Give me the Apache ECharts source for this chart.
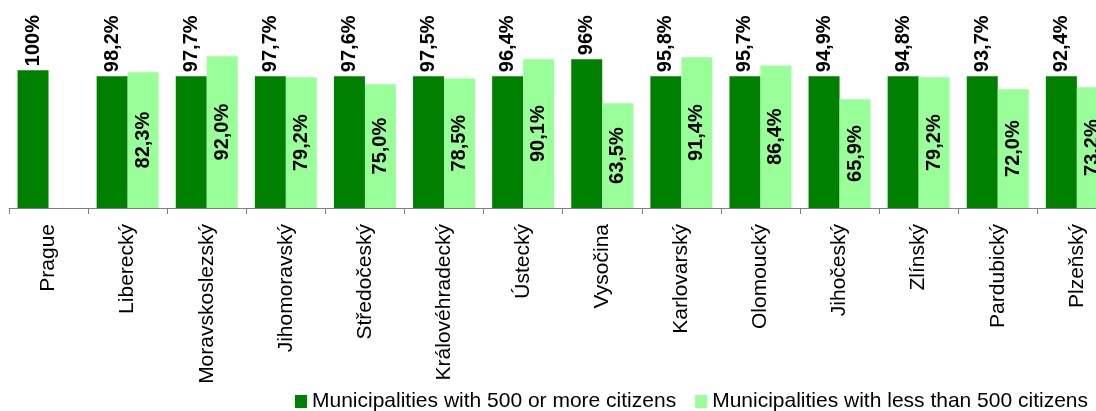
<!DOCTYPE html>
<html>
<head>
<meta charset="utf-8">
<script src="https://cdn.jsdelivr.net/npm/echarts@6/dist/echarts.min.js"></script>
<style>
html,body{margin:0;padding:0;background:#fff;overflow:hidden;}
#c{width:1130px;height:411px;}
</style>
</head>
<body>
<div id="c"></div>
<script>
const categories = ['Prague','Liberecký','Moravskoslezský','Jihomoravský','Středočeský','Královéhradecký','Ústecký','Vysočina','Karlovarský','Olomoucký','Jihočeský','Zlínský','Pardubický','Plzeňský'];
// Bar heights of the dark series as drawn in the picture (percent scale)
const largeBarHeights = [83.5, 79.9, 79.9, 79.9, 79.9, 79.9, 79.9, 90.2, 79.9, 79.9, 79.9, 79.9, 79.9, 79.9];
// Values printed above the dark bars
const largeLabels = [100, 98.2, 97.7, 97.7, 97.6, 97.5, 96.4, 96, 95.8, 95.7, 94.9, 94.8, 93.7, 92.4];
// Values of the light series
const smallValues = [null, 82.3, 92.0, 79.2, 75.0, 78.5, 90.1, 63.5, 91.4, 86.4, 65.9, 79.2, 72.0, 73.2];
const seriesNames = ['Municipalities with 500 or more citizens', 'Municipalities with less than 500 citizens'];

function fmt(v, keepDecimal) {
  if (!keepDecimal && Number.isInteger(v)) return v + '%';
  return v.toFixed(1).replace('.', ',') + '%';
}

const FONT = '"Liberation Sans", Arial, sans-serif';
const chart = echarts.init(document.getElementById('c'), null, {renderer: 'canvas'});
chart.setOption({
  animation: false,
  textStyle: {fontFamily: FONT},
  grid: {left: 9, top: 43, width: 1107.4, height: 165, containLabel: false},
  legend: {
    left: 295, top: 391, padding: 0,
    itemWidth: 12, itemHeight: 13, itemGap: 19,
    icon: 'rect',
    textStyle: {fontSize: 21, color: '#000', fontFamily: FONT},
    data: seriesNames
  },
  xAxis: {
    type: 'category',
    data: categories,
    axisLine: {lineStyle: {color: '#808080', width: 1}},
    axisTick: {show: true, length: 6, alignWithLabel: false, lineStyle: {color: '#808080'}},
    axisLabel: {rotate: 90, fontSize: 21, color: '#000', margin: 16, fontFamily: FONT, interval: 0}
  },
  yAxis: {
    type: 'value', min: 0, max: 100,
    show: false
  },
  series: [
    {
      name: seriesNames[0],
      type: 'bar',
      data: largeBarHeights,
      barWidth: 31,
      barGap: '0%',
      itemStyle: {color: '#008000'},
      label: {
        show: true, position: 'top', rotate: 90, align: 'left', verticalAlign: 'middle', distance: 4,
        fontSize: 20, fontWeight: 'bold', color: '#000', fontFamily: FONT,
        formatter: p => fmt(largeLabels[p.dataIndex], false)
      }
    },
    {
      name: seriesNames[1],
      type: 'bar',
      data: smallValues,
      barWidth: 31,
      barGap: '0%',
      itemStyle: {color: '#99FF99'},
      label: {
        show: true, position: 'inside', rotate: 90,
        fontSize: 20, fontWeight: 'bold', color: '#000', fontFamily: FONT,
        formatter: p => p.value == null ? '' : fmt(p.value, true)
      }
    }
  ]
});
</script>
</body>
</html>
